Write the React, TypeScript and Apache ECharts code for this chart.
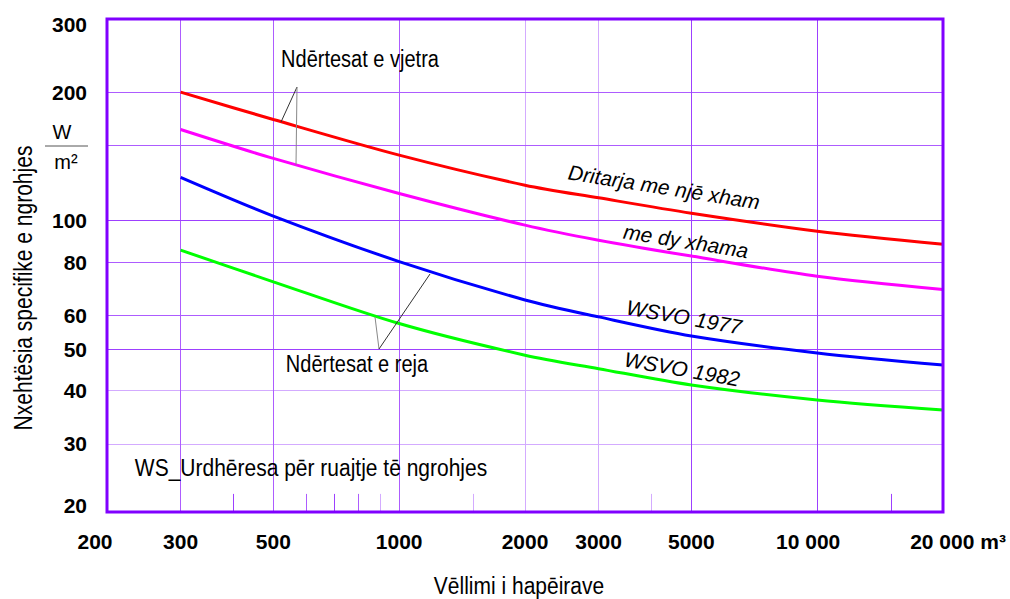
import React, { useEffect, useRef } from "react";
import * as echarts from "echarts";

// Volumes (m³) where the curves were read
const volumes = [300, 500, 1000, 2000, 3000, 5000, 10000, 20000];
// Specific heat demand (W/m²)
const singleGlazing = [200, 172.6, 142.4, 121.1, 113.1, 104.1, 94.5, 88.1];
const doubleGlazing = [163.5, 139.9, 115.8, 97.6, 90, 82.6, 74.1, 69];
const wsvo1977 = [126.3, 102.5, 80.2, 65.2, 59.5, 53.7, 49, 45.9];
const wsvo1982 = [85.3, 71.9, 57.4, 48.4, 45, 41.2, 38, 36];

const seriesNames = [
  "Dritarja me njē xham",
  "me dy xhama",
  "WSVO 1977",
  "WSVO 1982",
];

// tick labels
const yTickLabels = [20, 30, 40, 50, 60, 80, 100, 200, 300];
const xTickLabels = [200, 300, 500, 1000, 2000, 3000, 5000, 10000, 20000];

// grid lines
const yGridStrong = [100, 50];
const yGridMedium = [200, 150, 80, 60];
const yGridLight = [40, 30];
const xGridStrong = [5000, 10000];
const xGridMedium = [300, 500, 1000];
const xGridLight = [2000, 3000];
const minorTicksStrong = [400, 700, 15000];
const minorTicksMedium = [600, 800];
const minorTicksLight = [900, 1500, 4000];

const FONT = '"Liberation Sans", Arial, sans-serif';
const C_STRONG = "#9d40ff";
const C_MEDIUM = "#ad5cff";
const C_LIGHT = "#d3abff";

export default function App() {
  const ref = useRef<HTMLDivElement>(null);

  useEffect(() => {
    const chart = echarts.init(ref.current!, null, { renderer: "svg" });

    const Y_BOTTOM = 20.77;
    const Y_TOP = 296.5;
    const TICK_TOP = 22.9;

    const hLines = (vals: number[]) => vals.map((v) => ({ yAxis: v }));
    const vLines = (vals: number[], top: number) =>
      vals.map((v) => [{ coord: [v, Y_BOTTOM] }, { coord: [v, top] }]);

    const gridSeries = (color: string, data: any[]) => ({
      type: "line",
      z: 1,
      silent: true,
      data: [[200, 20]],
      showSymbol: false,
      symbol: "none",
      lineStyle: { width: 0, opacity: 0 },
      itemStyle: { color },
      markLine: {
        silent: true,
        symbol: ["none", "none"],
        label: { show: false },
        emphasis: { disabled: true },
        lineStyle: { color, width: 1, type: "solid", opacity: 1 },
        data,
      },
    });

    const num = { fontSize: 21, fontWeight: "bold", fontFamily: FONT, color: "#000" };

    const text = (
      t: string,
      x: number,
      y: number,
      opts: { size?: number; italic?: boolean; rot?: number; sy?: number } = {}
    ) => ({
      type: "text",
      x,
      y,
      rotation: ((opts.rot || 0) * Math.PI) / 180,
      scaleY: opts.sy || 1,
      z: 100,
      silent: true,
      style: {
        text: t,
        font: `${opts.italic ? "italic " : ""}${opts.size || 20}px ${FONT}`,
        fill: "#000",
        textAlign: "center",
        textVerticalAlign: "middle",
      },
    });
    const seg = (x1: number, y1: number, x2: number, y2: number, color = "#333") => ({
      type: "line",
      z: 90,
      silent: true,
      shape: { x1, y1, x2, y2 },
      style: { stroke: color, lineWidth: 1 },
    });

    const colors = ["#ff0000", "#ff00ff", "#0000ff", "#00ff00"];
    const values = [singleGlazing, doubleGlazing, wsvo1977, wsvo1982];

    chart.setOption({
      animation: false,
      backgroundColor: "#ffffff",
      grid: { left: 107, right: 67, top: 17, bottom: 80 },
      xAxis: {
        type: "log",
        logBase: 10,
        min: 200,
        max: 20000,
        axisLine: { show: false },
        axisTick: { show: false },
        splitLine: { show: false },
        axisLabel: {
          customValues: xTickLabels,
          margin: 12,
          formatter: (v: number) => {
            const r = Math.round(v);
            if (r === 200) return `{l|${r}}`;
            if (r === 10000) return "{m|10 000}";
            if (r === 20000) return "{r|20 000 m³}";
            return `{n|${r}}`;
          },
          rich: {
            n: num,
            l: { ...num, padding: [0, 24, 0, 0] },
            m: { ...num, padding: [0, 18, 0, 0] },
            r: { ...num, padding: [0, 0, 0, 30] },
          },
        },
      },
      yAxis: {
        type: "log",
        logBase: 10,
        min: 20,
        max: 300,
        axisLine: { show: false },
        axisTick: { show: false },
        splitLine: { show: false },
        axisLabel: {
          customValues: yTickLabels,
          margin: 20,
          formatter: (v: number) => {
            const r = Math.round(v);
            if (r === 20) return `{lo|${r}}`;
            if (r === 300) return `{hi|${r}}`;
            return `{n|${r}}`;
          },
          rich: {
            n: num,
            lo: { ...num, padding: [0, 0, 28, 0] },
            hi: { ...num, padding: [14, 0, 0, 0] },
          },
        },
      },
      series: [
        gridSeries(C_LIGHT, [
          ...hLines(yGridLight),
          ...vLines(xGridLight, Y_TOP),
          ...vLines(minorTicksLight, TICK_TOP),
        ]),
        gridSeries(C_MEDIUM, [
          ...hLines(yGridMedium),
          ...vLines(xGridMedium, Y_TOP),
          ...vLines(minorTicksMedium, TICK_TOP),
        ]),
        gridSeries(C_STRONG, [
          ...hLines(yGridStrong),
          ...vLines(xGridStrong, Y_TOP),
          ...vLines(minorTicksStrong, TICK_TOP),
        ]),
        ...values.map((vals, i) => ({
          type: "line",
          name: seriesNames[i],
          z: 5,
          smooth: 0.3,
          showSymbol: false,
          symbol: "none",
          lineStyle: { color: colors[i], width: 3 },
          itemStyle: { color: colors[i] },
          data: volumes.map((x, k) => [x, vals[k]]),
        })),
      ],
      graphic: [
        {
          type: "rect",
          z: 95,
          silent: true,
          shape: { x: 107, y: 19, width: 836, height: 493 },
          style: { fill: "none", stroke: "#8000ff", lineWidth: 3 },
        },
        text("Nxehtësia specifike e ngrohjes", 23, 288, { size: 21, rot: 90, sy: 1.25 }),
        text("W", 62, 132, { size: 20 }),
        seg(45, 146, 88, 146, "#555"),
        text("m²", 66, 162, { size: 20 }),
        text("Vēllimi i hapēirave", 519, 586, { size: 21, sy: 1.1 }),
        text("Ndērtesat e vjetra", 360, 59, { size: 20, sy: 1.15 }),
        seg(297, 87, 281, 122),
        seg(297, 87, 296, 165, "#888"),
        text("Ndērtesat e reja", 357, 364, { size: 20, sy: 1.15 }),
        seg(379, 349, 375, 317, "#888"),
        seg(379, 349, 430, 274),
        text("WS_Urdhēresa pēr ruajtje tē ngrohjes", 311, 468, { size: 21, sy: 1.1 }),
        text(seriesNames[0], 664, 187, { size: 21, italic: true, rot: -9 }),
        text(seriesNames[1], 686, 241, { size: 21, italic: true, rot: -9 }),
        text(seriesNames[2], 684, 317, { size: 21, italic: true, rot: -10 }),
        text(seriesNames[3], 682, 369, { size: 21, italic: true, rot: -10 }),
      ],
    });

    return () => chart.dispose();
  }, []);

  return (
    <div
      ref={ref}
      style={{ position: "fixed", left: 0, top: 0, width: 1010, height: 599, background: "#fff" }}
    />
  );
}
